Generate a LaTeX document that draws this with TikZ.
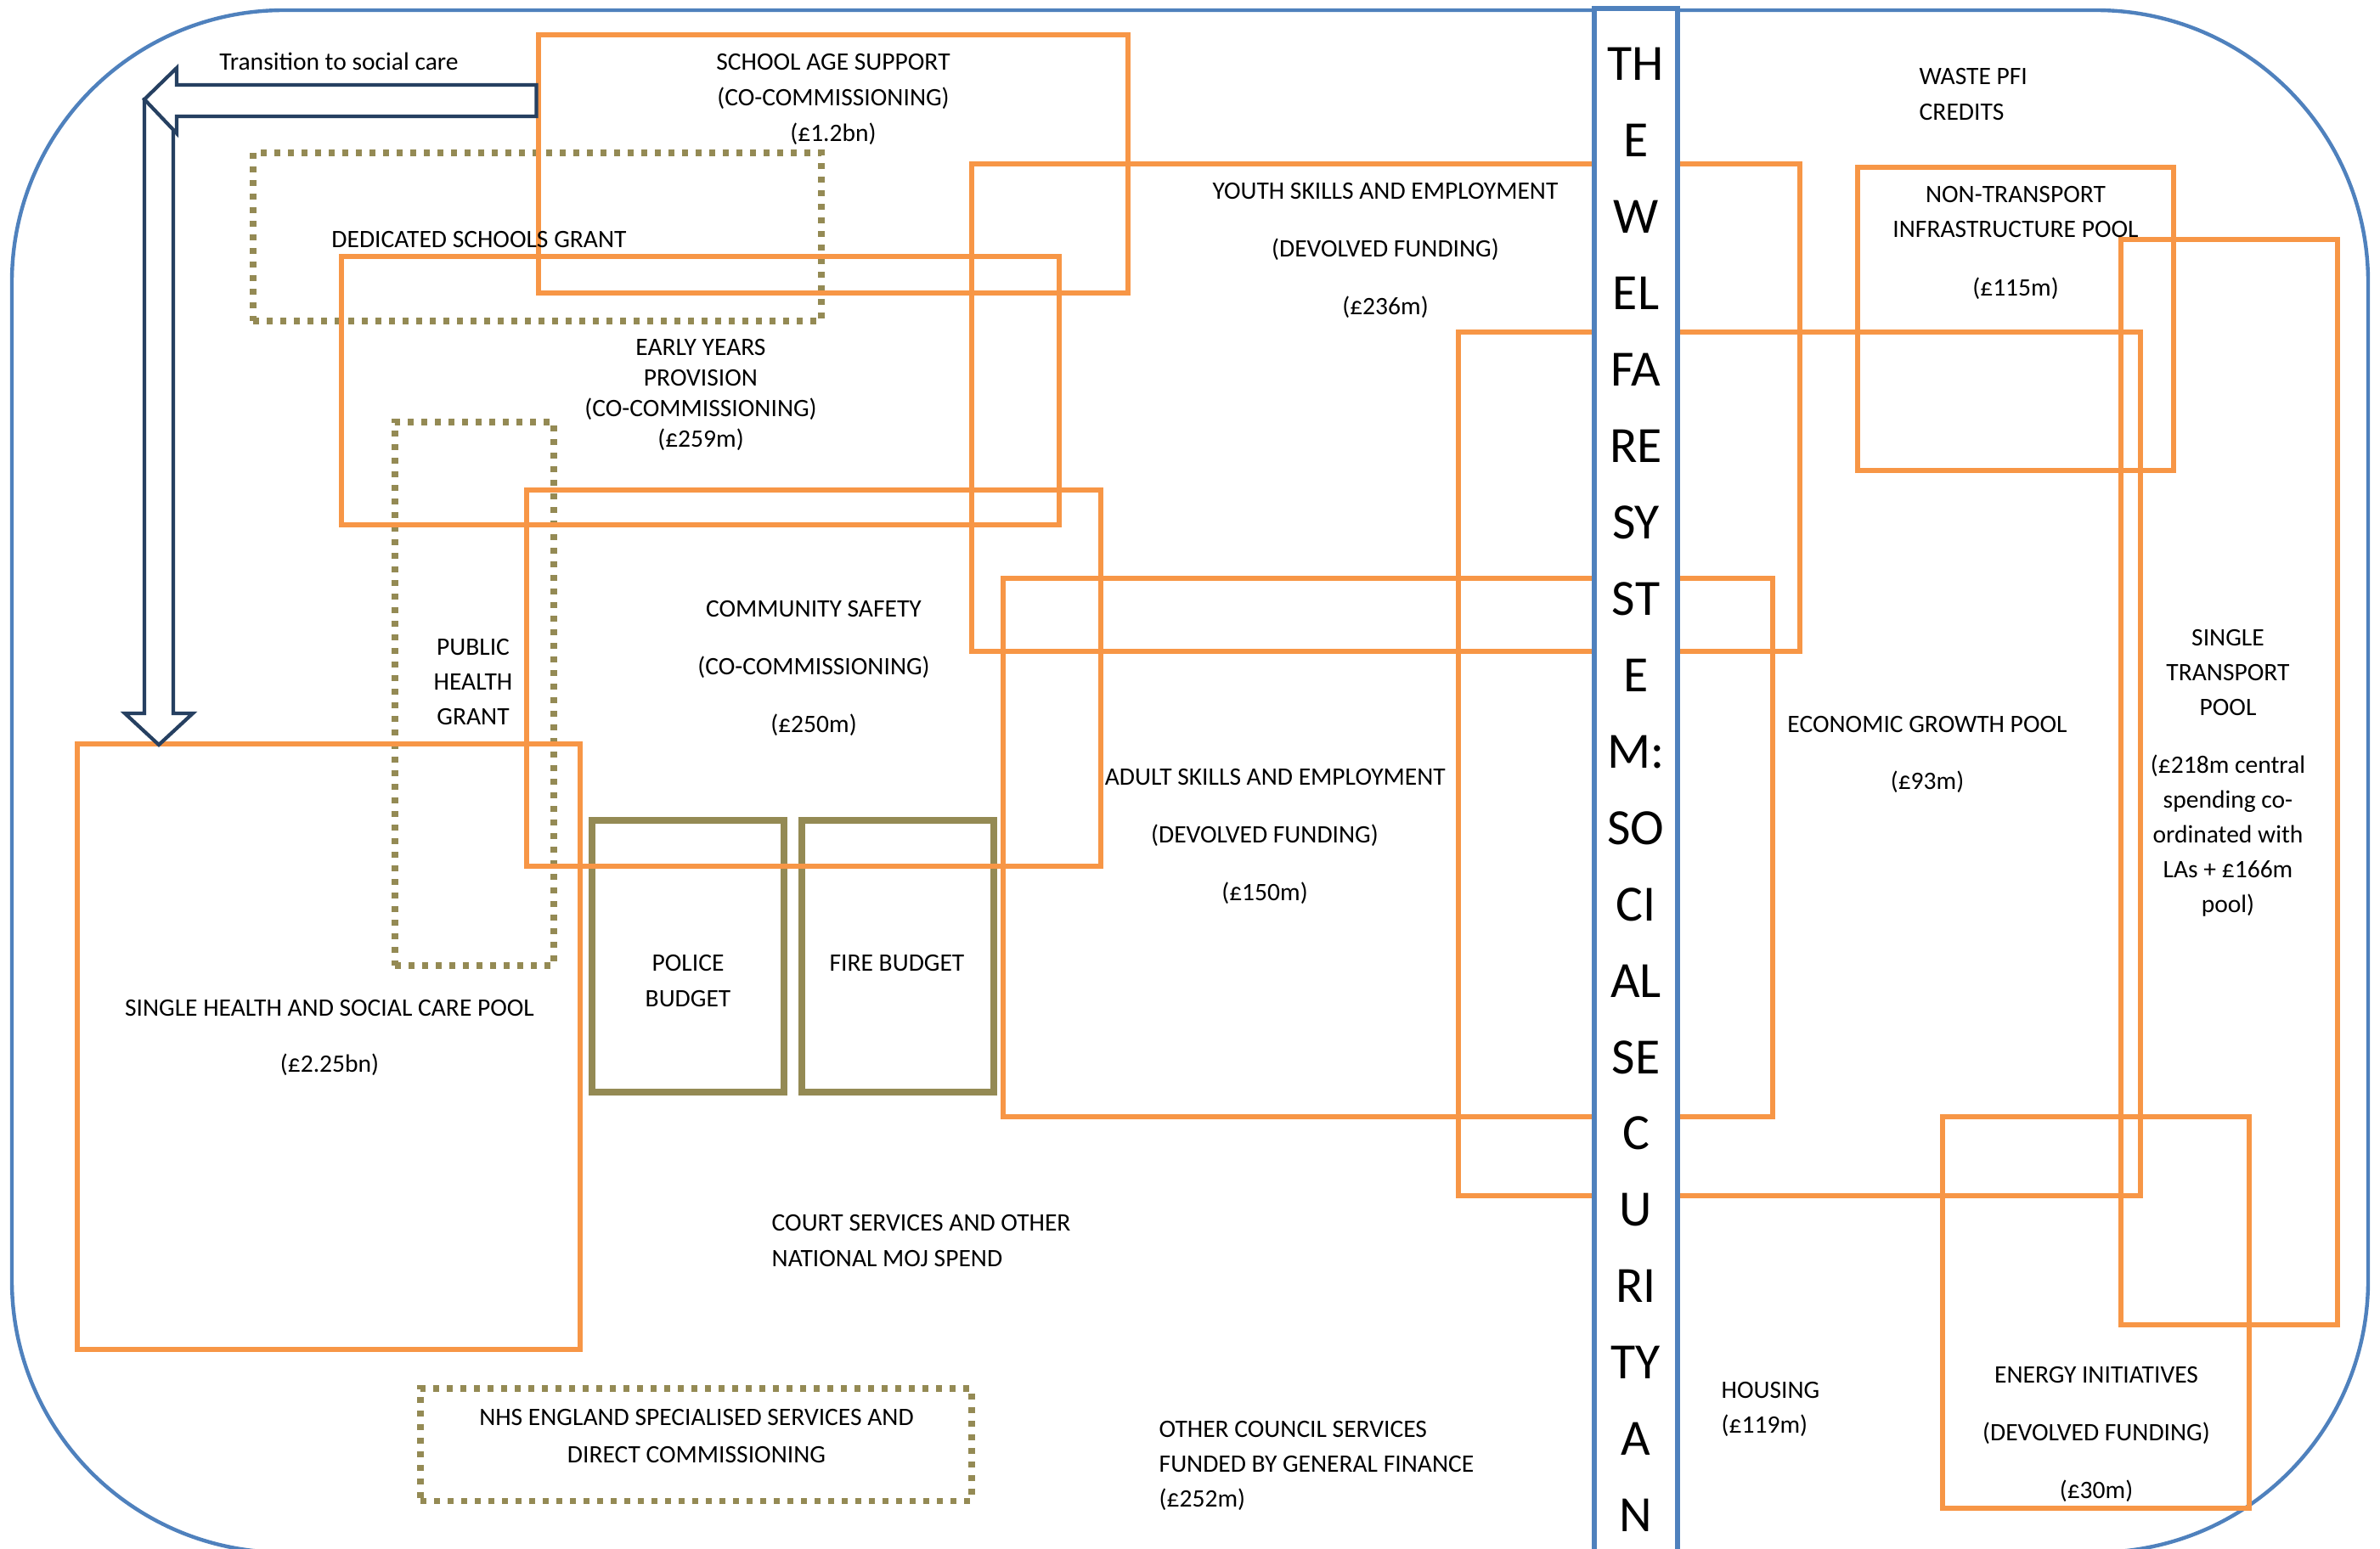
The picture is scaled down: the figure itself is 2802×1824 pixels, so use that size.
\documentclass[tikz,border=0pt]{standalone}
\usepackage{fontspec}
\setmainfont{Carlito}
\usetikzlibrary{fit}
\definecolor{orng}{HTML}{F79646}
\definecolor{olv}{HTML}{948A54}
\definecolor{blu}{HTML}{4F81BD}
\definecolor{navyb}{HTML}{264061}
\newcommand{\fsz}[1]{\fontsize{8.4}{#1}\selectfont}
\begin{document}
\begin{tikzpicture}[x=0.01cm,y=-0.01cm,
  obox/.style={draw=orng, line width=1.45pt, inner sep=0pt},
  dbox/.style={draw=olv, line width=2pt, dash pattern=on 2pt off 2.55pt, inner sep=0pt},
  sbox/.style={draw=olv, line width=2.3pt, inner sep=0pt},
  txt/.style={inner sep=0pt, align=center, text=black},
  ltxt/.style={inner sep=0pt, align=left, anchor=west, text=black},
  barrow/.style={draw=navyb, line width=1.2pt, fill=white, line join=miter}]
\useasboundingbox (0,0) rectangle (2802,1824);
\clip (0,0) rectangle (2802,1824);
\fill[white] (0,0) rectangle (2802,1824);
% outer frame
\node[draw=blu, line width=1.25pt, rounded corners=3.2cm, inner sep=0pt, fit={(14,12) (2788,1828)}] (frame) {};
% olive boxes
\node[dbox, fit={(298,180) (967,378)}] (dsg) {};
\node[dbox, fit={(465,497) (652,1137)}] (phg) {};
\node[dbox, fit={(495,1635) (1144,1767)}] (nhs) {};
\node[sbox, fit={(697,966) (923,1286)}] (police) {};
\node[sbox, fit={(944,966) (1170,1286)}] (fire) {};
% orange boxes
\node[obox, fit={(634,41) (1328,345)}] (school) {};
\node[obox, fit={(402,302) (1247,618)}] (early) {};
\node[obox, fit={(620,577) (1296,1020)}] (commsafe) {};
\node[obox, fit={(1144,193) (2119,767)}] (youth) {};
\node[obox, fit={(1181,681) (2087,1315)}] (adult) {};
\node[obox, fit={(1717,391) (2520,1408)}] (econ) {};
\node[obox, fit={(2187,197) (2559,554)}] (ntip) {};
\node[obox, fit={(2497,282) (2752,1560)}] (stp) {};
\node[obox, fit={(2287,1315) (2648,1776)}] (energy) {};
\node[obox, fit={(91,876) (683,1589)}] (shscp) {};
% central column
\node[draw=blu, fill=white, line width=1.45pt, inner sep=0pt, fit={(1877,10) (1975,1830)}] (col) {};
\node[txt, font=\fontsize{17}{25.58}\selectfont] (coltext) at (1926,930)
  {TH\\E\\W\\EL\\FA\\RE\\SY\\ST\\E\\M:\\SO\\CI\\AL\\SE\\C\\U\\RI\\TY\\A\\N};
% transition arrow (down arrow beneath, left arrow on top)
\coordinate (arrtip) at (187,877);
\draw[barrow] (170,117) -- (170,840) -- (147,840) -- (arrtip) -- (227,840) -- (204,840) -- (204,117) -- cycle;
\draw[barrow] (school.west |- 0,100) -- (208,100) -- (208,80) -- (170,117) -- (208,157) -- (208,137) -- (school.west |- 0,137) -- cycle;
% texts
\node[txt, font=\fsz{11.67}] (ttrans) at (399,72) {Transition to social care};
\node[txt, font=\fsz{11.95}] (tschool) at (981,117) {SCHOOL AGE SUPPORT\\(CO-COMMISSIONING)\\(£1.2bn)};
\node[txt, font=\fsz{11.67}] (tdsg) at (564,282) {DEDICATED SCHOOLS GRANT};
\node[txt, font=\fsz{10.24}] (tey) at (825,465) {EARLY YEARS\\PROVISION\\(CO-COMMISSIONING)\\(£259m)};
\node[txt, font=\fsz{11.67}] (tph) at (557,803) {PUBLIC\\HEALTH\\GRANT};
\node[txt, font=\fsz{19.35}] (tcs) at (958,787) {COMMUNITY SAFETY\\(CO-COMMISSIONING)\\(£250m)};
\node[txt, font=\fsz{19.35}] (tys) at (1631,295) {YOUTH SKILLS AND EMPLOYMENT\\(DEVOLVED FUNDING)\\(£236m)};
\node[txt, font=\fsz{19.35}] (tas) at (1489,985) {\hspace*{7pt}ADULT SKILLS AND EMPLOYMENT\\(DEVOLVED FUNDING)\\(£150m)};
\node[txt, font=\fsz{19.06}] (teg) at (2269,888) {ECONOMIC GROWTH POOL\\(£93m)};
\node[txt, font=\fsz{11.67}] (tnt) at (2373,286) {NON-TRANSPORT\\INFRASTRUCTURE POOL\\[7.7pt](£115m)};
\node[txt, font=\fsz{11.67}] (tst) at (2623,910) {SINGLE\\TRANSPORT\\POOL\\[7.7pt](£218m central\\spending co-\\ordinated with\\LAs + £166m\\pool)};
\node[txt, font=\fsz{19.35}] (ten) at (2468,1689) {ENERGY INITIATIVES\\(DEVOLVED FUNDING)\\(£30m)};
\node[txt, font=\fsz{18.78}] (tsh) at (388,1222) {SINGLE HEALTH AND SOCIAL CARE POOL\\(£2.25bn)};
\node[txt, font=\fsz{11.67}] (tpol) at (810,1155) {POLICE\\BUDGET};
\node[txt, font=\fsz{11.67}] (tfire) at (1056,1134) {FIRE BUDGET};
\node[txt, font=\fsz{12.23}] (tnhs) at (820,1691) {NHS ENGLAND SPECIALISED SERVICES AND\\DIRECT COMMISSIONING};
\node[ltxt, font=\fsz{11.67}] (twaste) at (2259,111) {WASTE PFI\\CREDITS};
\node[ltxt, font=\fsz{11.95}] (tcourt) at (908,1461) {COURT SERVICES AND OTHER\\NATIONAL MOJ SPEND};
\node[ltxt, font=\fsz{11.67}] (tother) at (1364,1726) {OTHER COUNCIL SERVICES\\FUNDED BY GENERAL FINANCE\\(£252m)};
\node[ltxt, font=\fsz{11.67}] (thous) at (2026,1659) {HOUSING\\(£119m)};
\end{tikzpicture}
\end{document}
